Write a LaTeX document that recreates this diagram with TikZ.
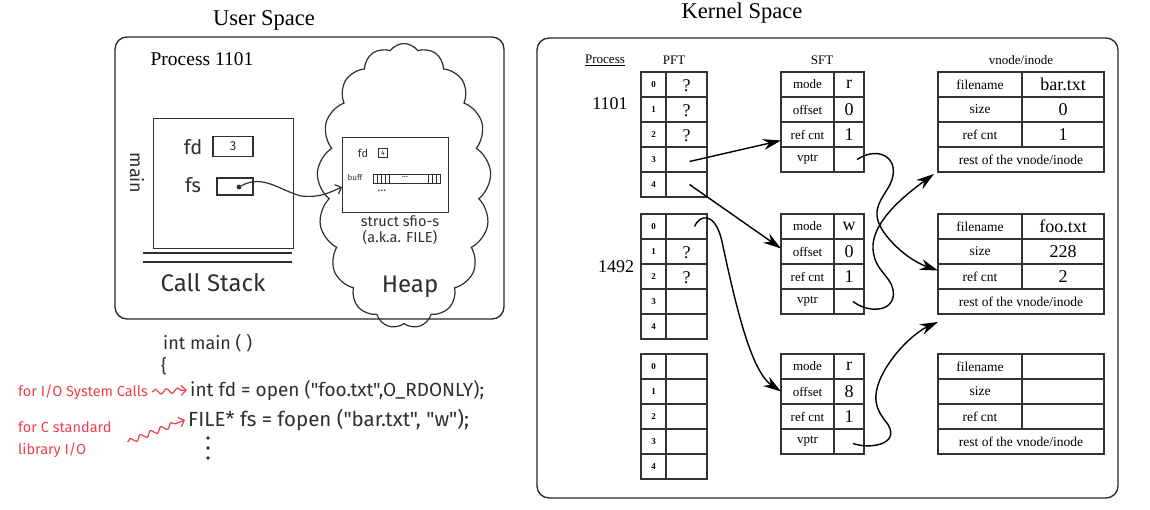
\documentclass[tikz,border=0pt]{standalone}
\usepackage{fontspec}
\setmainfont{Liberation Serif}
\newfontfamily\hand{Fira Sans}
\usepackage{xcolor}
\usepackage{tikz}
\usetikzlibrary{arrows.meta, positioning, shapes.symbols, decorations.pathmorphing}
\definecolor{pen}{RGB}{238,62,76}
\definecolor{ink}{RGB}{45,48,45}

\begin{document}
\begin{tikzpicture}[x=1pt, y=-1pt,
    frame/.style={rectangle, draw=black!85, line width=1.3pt, rounded corners=12pt, anchor=north west, inner sep=0pt, outer sep=0pt},
    title/.style={font=\fontsize{22.5}{24}\selectfont},
    head/.style={font=\fontsize{13}{15}\selectfont},
    pid/.style={font=\fontsize{18}{20}\selectfont},
    cell/.style={rectangle, draw=black!80, line width=1.1pt, minimum height=25pt, inner sep=0pt, outer sep=0pt, anchor=north west},
    idx/.style={cell, minimum width=25pt, font=\fontsize{9}{10}\selectfont\bfseries},
    pval/.style={cell, minimum width=41pt, font=\fontsize{18}{20}\selectfont},
    slab/.style={cell, minimum width=53pt, font=\fontsize{13}{15}\selectfont},
    sval/.style={cell, minimum width=30pt, font=\fontsize{18}{20}\selectfont},
    vlab/.style={cell, minimum width=84pt, font=\fontsize{13.5}{15}\selectfont},
    vval/.style={cell, minimum width=82pt, font=\fontsize{18}{20}\selectfont},
    vrest/.style={cell, minimum width=166pt, font=\fontsize{13.5}{15}\selectfont},
    qmark/.style={font=\fontsize{18}{20}\selectfont, inner sep=0pt},
    hand/.style={text=ink, font=\hand\fontsize{18}{20}\selectfont, inner sep=0pt},
    sketch/.style={draw=ink, line width=1.2pt},
    note/.style={text=pen, font=\hand\fontsize{14.5}{22}\selectfont, inner sep=0pt, align=left},
    squiggle/.style={draw=pen, line width=1.2pt, -{Straight Barb[length=5pt]}, decorate, decoration={snake, amplitude=2.5pt, segment length=11pt, post length=6pt}},
    ptr/.style={draw=black, line width=1.4pt, -{Stealth[length=18pt, width=11pt]}}
]
    \useasboundingbox (0,0) rectangle (1150,510);

    % Frames and titles
    \node[frame, minimum width=389pt, minimum height=282pt] (USER) at (115,37) {};
    \node[frame, minimum width=581pt, minimum height=460pt] (KERNEL) at (537,38) {};
    \node[title, anchor=base] (UTITLE) at (264,26) {User Space};
    \node[title, anchor=base] (KTITLE) at (742,19) {Kernel Space};

    % User space: process 1101 (hand drawn)
    \node[pid, font=\fontsize{19.5}{21}\selectfont] (PROC) at (202,59) {Process 1101};
    \node[sketch, rectangle, minimum width=140pt, minimum height=130pt, anchor=north west, inner sep=0pt] (STACK) at (153,118) {};
    \draw[sketch] (143,253) -- (292,253) (143,262) -- (292,262);
    \node[hand, rotate=-90] (MAIN) at (137,173) {main};
    \node[hand, font=\hand\fontsize{20}{22}\selectfont] (FD) at (193,147) {fd};
    \node[sketch, rectangle, minimum width=40pt, minimum height=20pt, hand, font=\hand\fontsize{13}{15}\selectfont] (FDBOX) at (233,146.5) {3};
    \node[hand, font=\hand\fontsize{20}{22}\selectfont] (FS) at (193,185) {fs};
    \node[sketch, rectangle, minimum width=36pt, minimum height=17pt] (FSBOX) at (235,186.5) {};
    \node[circle, fill=ink, inner sep=1.7pt] (FSDOT) at (239,187) {};
    \node[hand, font=\hand\fontsize{24}{26}\selectfont] (CSTACK) at (213,283) {Call Stack};

    % Heap with the FILE struct
    \node[cloud, sketch, cloud puffs=17, cloud puff arc=110, aspect=0.6, minimum width=174pt, minimum height=285pt, inner sep=0pt] (HEAP) at (404,186) {};
    \node[hand, font=\hand\fontsize{24}{26}\selectfont] (HLABEL) at (410,287) {Heap};
    \node[sketch, rectangle, minimum width=106pt, minimum height=75pt, anchor=north west, inner sep=0pt] (STRUCT) at (342,137) {};
    \node[hand, font=\hand\fontsize{11}{12}\selectfont] (SFD) at (363,153) {fd};
    \node[sketch, rectangle, line width=0.8pt, minimum size=9pt, inner sep=0pt, text=ink, font=\hand\fontsize{7}{8}\selectfont] (SFDBOX) at (383,153) {4};
    \node[hand, font=\hand\fontsize{8}{9}\selectfont] (BUFF) at (355,178) {buff};
    \node[sketch, rectangle, line width=0.9pt, minimum width=67pt, minimum height=9pt, inner sep=0pt, anchor=west] (BUF) at (373,178.5) {};
    \foreach \dx in {4,8,12,16,55,59,63}
        \draw[ink, line width=0.7pt] ([xshift=\dx pt]BUF.north west) -- ([xshift=\dx pt]BUF.south west);
    \node[hand, font=\hand\fontsize{9}{10}\selectfont] (BUFDOTS) at (405,177) {...};
    \node[hand, font=\hand\fontsize{12}{13}\selectfont] (SDOTS) at (382,191) {...};
    \node[hand, font=\hand\fontsize{14.5}{16}\selectfont, align=center] (SNAME) at (400,230) {struct sfio-s\\(a.k.a. FILE)};
    \draw[sketch, -{Straight Barb[length=5pt]}] (FSDOT) .. controls +(24,-13) and +(-22,-6) .. ++(62,9)
        .. controls +(20,2) and +(-12,5) .. ([yshift=-12pt]STRUCT.west);

    % Source code and notes
    \node[hand, anchor=west] (SIG) at (163,343) {int main ( )};
    \node[hand, anchor=west] (BRACE) at (161,366) {\{};
    \node[hand, anchor=west, font=\hand\fontsize{19}{21}\selectfont] (CODEFD) at (190,390) {int fd = open ("foo.txt",O\_RDONLY);};
    \node[hand, anchor=west, font=\hand\fontsize{20.5}{22}\selectfont] (CODEFS) at (188,420) {FILE* fs = fopen ("bar.txt", "w");};
    \foreach \k in {0,1,2}
        \fill[ink] (208,438+10*\k) circle (1.8);
    \node[note, anchor=west] (SYSC) at (18,392) {for I/O System Calls};
    \node[note, anchor=north west] (CSTD) at (18,421) {for C standard\\library I/O};
    \draw[squiggle] ([xshift=4pt]SYSC.east) -- ([xshift=-3pt]CODEFD.west);
    \draw[squiggle] ([xshift=16pt,yshift=-3pt]CSTD.east) -- ([xshift=-3pt]CODEFS.west);

    % Kernel space headers
    \node[head] (HPROC) at (605,60) {\underline{Process}};
    \node[head] (HPFT) at (674,60) {PFT};
    \node[head] (HSFT) at (822,60) {SFT};
    \node[head] (HVN) at (1021,60) {vnode/inode};
    \node[pid] (P1101) at (610,104) {1101};
    \node[pid] (P1492) at (616,267) {1492};

    % Per-process file tables
    \foreach \tb/\yy in {1/72, 2/214, 3/354} {
        \foreach \i in {0,...,4} {
            \node[idx] (p\tb-\i) at (641,\yy+25*\i) {\i};
            \node[pval, right=0pt of p\tb-\i] (pv\tb-\i) {};
        }
    }
    \foreach \c in {1-0,1-1,1-2,2-1,2-2}
        \node[qmark] (q\c) at ([yshift=-1pt]pv\c.center) {?};

    % System file table
    \foreach \tb/\yy/\md/\off in {1/72/r/0, 2/214/w/0, 3/354/r/8} {
        \foreach \lab/\val [count=\i from 0] in {mode/\md, offset/\off, ref cnt/1, vptr/{}} {
            \node[slab] (s\tb-\i) at (781,\yy+25*\i) {\lab};
            \node[sval, right=0pt of s\tb-\i] (sv\tb-\i) {\val};
        }
    }

    % vnode / inode tables
    \foreach \tb/\yy/\fn/\sz/\rc in {1/72/bar.txt/0/1, 2/214/foo.txt/228/2, 3/354/{}/{}/{}} {
        \foreach \lab/\val [count=\i from 0] in {filename/\fn, size/\sz, ref cnt/\rc} {
            \node[vlab] (v\tb-\i) at (938,\yy+25*\i) {\lab};
            \node[vval, right=0pt of v\tb-\i] (vv\tb-\i) {\val};
        }
        \node[vrest] (v\tb-3) at (938,\yy+75) {rest of the vnode/inode};
    }

    % Pointers PFT -> SFT
    \draw[ptr] ([xshift=3pt,yshift=-2pt]pv1-3.center) -- ([yshift=-6pt]s1-2.west);
    \draw[ptr] ([xshift=3pt]pv1-4.center) -- ([yshift=3pt]s2-1.west);
    \draw[ptr] ([xshift=8pt]pv2-0.center) .. controls +(5,-12) and +(-7,-28) .. ++(27,13)
        .. controls +(13,60) and +(-31,-21) .. (s3-1.west);

    % Pointers SFT -> vnode/inode
    \draw[ptr] ([xshift=8pt]sv1-3.center) .. controls +(23,-15) and +(12,-25) .. ++(33,25)
        .. controls +(-8,15) and +(-12,-20) .. ++(-8,45)
        .. controls +(13,20) and +(-23,-8) .. ([yshift=6pt]v2-2.west);
    \draw[ptr] ([xshift=4pt]sv2-3.center) .. controls +(17,13) and +(4,22) .. ++(40,-12)
        .. controls +(-3,-15) and +(-1,25) .. ++(-20,-45)
        .. controls +(2,-25) and +(-29,21) .. ([xshift=-4pt,yshift=-2pt]v1-3.south west);
    \draw[ptr] ([xshift=4pt,yshift=-2pt]sv3-3.center) .. controls +(17,6) and +(12,20) .. ++(35,-19)
        .. controls +(-10,-13) and +(-17,30) .. ++(-3,-55)
        .. controls +(15,-25) and +(-18,8) .. ([yshift=-8pt]v2-3.south west);
\end{tikzpicture}
\end{document}
